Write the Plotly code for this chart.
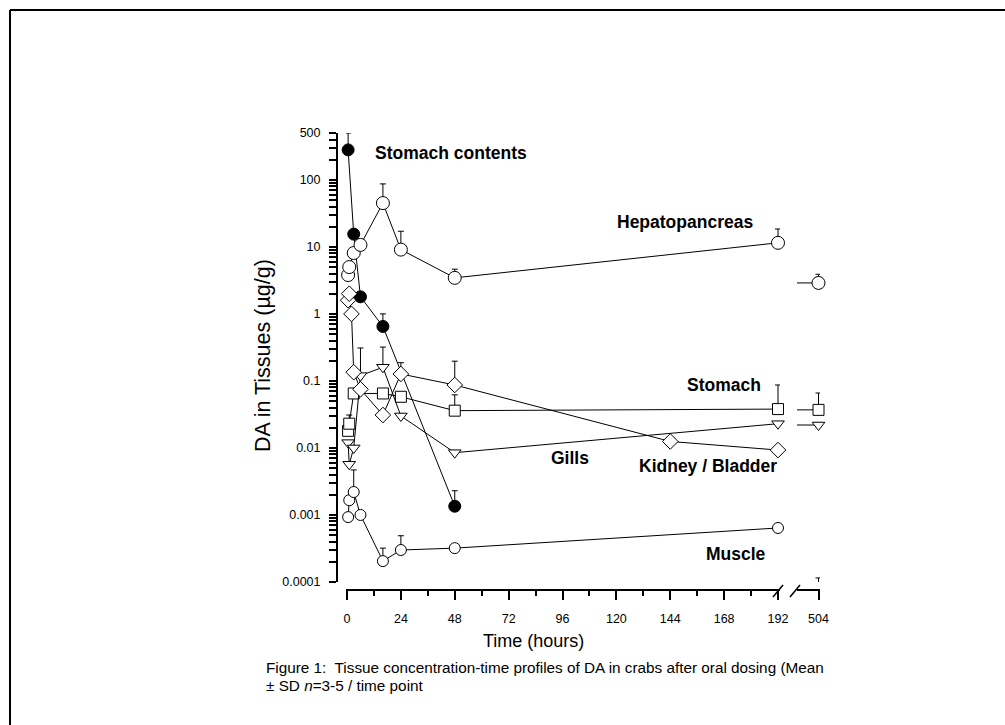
import numpy as np
import plotly.graph_objects as go

# ---------------- data ----------------
# Stomach contents (filled circles)
sc_t = [0.5, 3, 6, 16, 48]
sc_v = [280, 15.5, 1.8, 0.65, 0.00135]
sc_e = [220, 0, 0, 0.35, 0.00095]

# Hepatopancreas (open circles)
hp_t = [0.5, 1, 3, 6, 16, 24, 48, 192, 504]
hp_v = [3.8, 5.0, 8.1, 10.7, 45, 9.1, 3.45, 11.5, 2.9]
hp_e = [0, 0, 0, 0, 42, 8, 1.2, 7, 1.0]

# Stomach (open squares)
st_t = [0.5, 1, 3, 16, 24, 48, 192, 504]
st_v = [0.018, 0.023, 0.065, 0.065, 0.058, 0.036, 0.038, 0.037]
st_e = [0, 0.008, 0, 0, 0, 0.026, 0.049, 0.029]

# Gills (open down-triangles)
gi_t = [0.5, 1, 3, 6, 16, 24, 48, 192, 504]
gi_v = [0.012, 0.0057, 0.010, 0.12, 0.16, 0.030, 0.0085, 0.023, 0.022]
gi_e = [0, 0, 0, 0.19, 0.16, 0, 0, 0, 0]

# Kidney / Bladder (open diamonds)
kb_t = [0.5, 1, 2, 3, 6, 16, 24, 48, 144, 192]
kb_v = [1.6, 2.0, 1.0, 0.135, 0.075, 0.031, 0.127, 0.087, 0.0125, 0.0093]
kb_e = [0, 0, 0, 0, 0, 0, 0.06, 0.11, 0, 0]

# Muscle (open circles)
mu_t = [0.5, 1, 3, 6, 16, 24, 48, 192, 504]
mu_v = [0.00093, 0.00166, 0.0022, 0.001, 0.000205, 0.0003, 0.00032, 0.00064, 0.00008]
mu_e = [0, 0, 0.0025, 0, 0.000115, 0.00019, 0, 0, 0.000035]

x_ticks = [0, 24, 48, 72, 96, 120, 144, 168, 192]
x2_ticks = [504]
y_ticks = [1e-4, 1e-3, 1e-2, 1e-1, 1, 10, 100, 500]
y_ticktext = ["0.0001", "0.001", "0.01", "0.1", "1", "10", "100", "500"]

series_labels = ["Stomach contents", "Hepatopancreas", "Stomach", "Gills",
                 "Kidney / Bladder", "Muscle"]

# ---------------- layout geometry (pixels) ----------------
W_FIG, H_FIG = 1005, 725
L, R, T, B = 338, 822, 128, 600
PW, PH = R - L, B - T


def px(x):
    return (x - L) / PW


def py(y):
    return (B - y) / PH


HPP = (778 - 347) / 192.0  # pixels per hour
X1_DOM = [px(346), px(780)]
X1_RANGE = [0 - (347 - 346) / HPP, 192 + (780 - 778) / HPP]
X2_DOM = [px(797), px(820)]
X2_RANGE = [504 - (818.5 - 797) / HPP, 504 + (820 - 818.5) / HPP]
Y_RANGE = [-4, np.log10(500)]
Y_DOM = [py(582), py(133)]

# minor log ticks (2..9 per decade) merged with the labelled major ticks
y_minor = [k * 10.0 ** d for d in range(-4, 3) for k in range(2, 10)
           if np.log10(k * 10.0 ** d) <= Y_RANGE[1] + 1e-9
           and not any(abs(k * 10.0 ** d - m) < 1e-12 for m in y_ticks)]
label_of = dict(zip(y_ticks, y_ticktext))
y_all = sorted(y_ticks + y_minor)
y_all_text = [label_of.get(v, "") for v in y_all]

FONT = "Arial, Liberation Sans, sans-serif"

fig = go.Figure()

# empty trace instantiating the helper axis x3 (its left edge carries the y axis)
fig.add_trace(go.Scatter(x=[None], y=[None], xaxis="x3", yaxis="y",
                         mode="markers", showlegend=False, hoverinfo="skip"))


def add_series(t, v, e, symbol, size, fill, stub=True):
    t = np.array(t, dtype=float)
    v = np.array(v, dtype=float)
    e = np.array(e, dtype=float)
    main = t <= 192
    common = dict(
        mode="lines+markers",
        line=dict(color="black", width=1),
        marker=dict(symbol=symbol, size=size, color=fill,
                    line=dict(color="black", width=1)),
        cliponaxis=False,
        showlegend=False,
        hoverinfo="x+y",
    )
    fig.add_trace(go.Scatter(
        x=t[main], y=v[main], xaxis="x", yaxis="y",
        error_y=dict(type="data", symmetric=False, array=e[main],
                     arrayminus=np.zeros(main.sum()), color="black",
                     thickness=1, width=3),
        **common))
    late = ~main
    if late.any():
        if stub:
            # stub of the broken connecting line entering the 504 h segment
            fig.add_trace(go.Scatter(
                x=[X2_RANGE[0], t[late][0]], y=[v[late][0], v[late][0]],
                xaxis="x2", yaxis="y", mode="lines",
                line=dict(color="black", width=1), showlegend=False,
                hoverinfo="skip"))
        fig.add_trace(go.Scatter(
            x=t[late], y=v[late], xaxis="x2", yaxis="y",
            error_y=dict(type="data", symmetric=False, array=e[late],
                         arrayminus=np.zeros(late.sum()), color="black",
                         thickness=1, width=3),
            **common))


add_series(sc_t, sc_v, sc_e, "circle", 12, "black")
add_series(hp_t, hp_v, hp_e, "circle", 13, "white")
add_series(st_t, st_v, st_e, "square", 11, "white")
add_series(gi_t, gi_v, gi_e, "triangle-down", 11, "white")
add_series(kb_t, kb_v, kb_e, "diamond", 12, "white")
add_series(mu_t, mu_v, mu_e, "circle", 11, "white", stub=False)

axis_common = dict(
    showline=True, linecolor="black", linewidth=2,
    ticks="outside", tickcolor="black", tickwidth=1.5,
    showgrid=False, zeroline=False,
    tickfont=dict(family=FONT, size=12.5, color="black"),
)

fig.update_layout(
    width=W_FIG, height=H_FIG,
    margin=dict(l=L, r=W_FIG - R, t=T, b=H_FIG - B, pad=0),
    paper_bgcolor="white", plot_bgcolor="rgba(0,0,0,0)",
    showlegend=False,
    xaxis=dict(domain=X1_DOM, range=X1_RANGE, anchor="free", position=py(590),
               tickmode="array", tickvals=x_ticks,
               ticktext=[str(v) for v in x_ticks], ticklen=9,
               ticklabelstandoff=8,
               minor=dict(tickmode="linear", tick0=0, dtick=12, ticks="outside",
                          ticklen=5, tickwidth=1.5, tickcolor="black",
                          showgrid=False),
               **axis_common),
    xaxis2=dict(domain=X2_DOM, range=X2_RANGE, anchor="free", position=py(590),
                tickmode="array", tickvals=x2_ticks,
                ticktext=[str(v) for v in x2_ticks], ticklen=9,
                ticklabelstandoff=8,
                **axis_common),
    xaxis3=dict(domain=[0, X1_DOM[1]], range=X1_RANGE, anchor="y",
                visible=False, showgrid=False, zeroline=False),
    yaxis=dict(type="log", domain=Y_DOM,
               range=Y_RANGE, anchor="x3", side="left",
               tickmode="array", tickvals=y_all, ticktext=y_all_text,
               ticklen=7, ticklabelstandoff=6,
               **axis_common),
)

# axis break slashes
for x0, x1 in [(773, 783), (790, 800)]:
    fig.add_shape(type="line", xref="paper", yref="paper",
                  x0=px(x0), y0=py(597), x1=px(x1), y1=py(585),
                  line=dict(color="black", width=1.5))

# frame (top and left edges)
fig.add_shape(type="line", xref="paper", yref="paper",
              x0=px(10), y0=py(10), x1=px(1010), y1=py(10),
              line=dict(color="black", width=2))
fig.add_shape(type="line", xref="paper", yref="paper",
              x0=px(10), y0=py(10), x1=px(10), y1=py(730),
              line=dict(color="black", width=2))

# series labels
label_pos = [(373, 153), (615, 222), (685, 385), (549, 458), (637, 466), (704, 554)]
for txt, (x, y) in zip(series_labels, label_pos):
    fig.add_annotation(text="<b>%s</b>" % txt, xref="paper", yref="paper",
                       x=px(x), y=py(y), xanchor="left", yanchor="middle",
                       showarrow=False,
                       font=dict(family=FONT, size=17.5, color="black"))

# axis titles
fig.add_annotation(text="Time (hours)", xref="paper", yref="paper",
                   x=px(533), y=py(641), xanchor="center", yanchor="middle",
                   showarrow=False, font=dict(family=FONT, size=18, color="black"))
fig.add_annotation(text="DA in Tissues (µg/g)", xref="paper", yref="paper",
                   x=px(263), y=py(356), xanchor="center", yanchor="middle",
                   textangle=-90, showarrow=False,
                   font=dict(family=FONT, size=21.5, color="black"))

# caption
fig.add_annotation(text="Figure 1:  Tissue concentration-time profiles of DA in crabs after oral dosing (Mean",
                   xref="paper", yref="paper", x=px(264), y=py(667),
                   xanchor="left", yanchor="middle", showarrow=False,
                   font=dict(family=FONT, size=15.3, color="black"))
fig.add_annotation(text="± SD <i>n</i>=3-5 / time point",
                   xref="paper", yref="paper", x=px(264), y=py(685),
                   xanchor="left", yanchor="middle", showarrow=False,
                   font=dict(family=FONT, size=15.3, color="black"))

fig.write_html("out.html")
